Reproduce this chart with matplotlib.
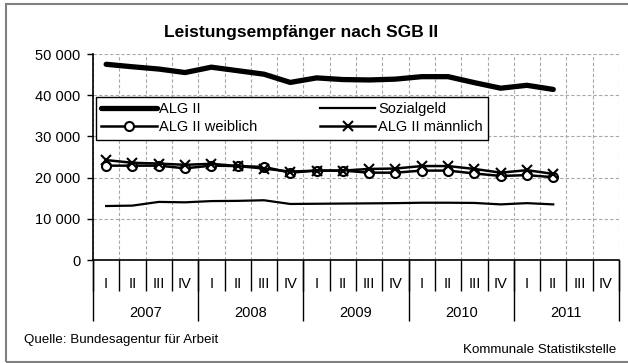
import matplotlib.pyplot as plt
import numpy as np
from matplotlib.patches import Rectangle

plt.rcParams['font.family'] = ['Liberation Sans Narrow', 'Liberation Sans', 'DejaVu Sans']

years = ['2007', '2008', '2009', '2010', '2011']
quarters = ['I', 'II', 'III', 'IV']

# quarterly counts, 2007 I .. 2011 II
alg2 = [47500, 46900, 46350, 45500, 46800, 45950, 45100, 43100, 44200,
        43800, 43700, 43900, 44500, 44500, 43050, 41700, 42400, 41400]
sozialgeld = [13100, 13200, 14100, 14000, 14300, 14350, 14500, 13600, 13650,
              13700, 13750, 13800, 13900, 13900, 13850, 13500, 13800, 13500]
alg2_w = [22900, 22900, 22900, 22250, 22900, 22800, 22600, 21200, 21700,
          21700, 21200, 21200, 21700, 21700, 21000, 20400, 20600, 20100]
alg2_m = [24250, 23600, 23400, 23100, 23350, 22800, 22200, 21450, 21700,
          21700, 22100, 22200, 22800, 22800, 22100, 21200, 21800, 20900]

W, H = 628, 363
fig = plt.figure(figsize=(W / 100, H / 100), dpi=100)
ax = fig.add_axes([93 / W, 1 - 260 / H, (619 - 93) / W, (260 - 54) / H])

n_cat = len(years) * len(quarters)
x = np.arange(len(alg2))

l_alg2, = ax.plot(x, alg2, color='black', lw=3.8, solid_capstyle='round', label='ALG II')
l_soz, = ax.plot(x, sozialgeld, color='black', lw=1.6, label='Sozialgeld')
l_w, = ax.plot(x, alg2_w, color='black', lw=1.8, marker='o', ms=6.5, mfc='white',
               mec='black', mew=1.5, label='ALG II weiblich')
l_m, = ax.plot(x, alg2_m, color='black', lw=1.8, marker='x', ms=6.5, mew=1.5,
               label='ALG II männlich')

ax.set_xlim(-0.5, n_cat - 0.5)
ax.set_ylim(0, 50000)

yticks = np.arange(0, 50001, 10000)
ax.set_yticks(yticks, labels=[f'{v:,}'.replace(',', ' ') for v in yticks])
ax.tick_params(axis='y', direction='out', length=4, width=1, labelsize=10.5, pad=5)

# quarter labels with separators between categories
bounds = np.arange(n_cat + 1) - 0.5
ax.set_xticks(np.arange(n_cat), labels=quarters * len(years))
ax.set_xticks(bounds, minor=True)
ax.tick_params(axis='x', which='major', length=0, pad=12, labelsize=10.5)
ax.tick_params(axis='x', which='minor', direction='out', length=22, width=1)

# year labels with longer separators
sec = ax.secondary_xaxis('bottom')
sec.set_xticks(bounds[::len(quarters)], labels=[''] * (len(years) + 1))
sec.set_xticks(np.arange(len(years)) * len(quarters) + 1.5, labels=years, minor=True)
sec.tick_params(which='major', direction='out', length=44, width=1)
sec.tick_params(which='minor', length=0, pad=33, labelsize=10.5)
sec.spines['bottom'].set_visible(False)

for s in ['top', 'right']:
    ax.spines[s].set_visible(False)
for s in ['left', 'bottom']:
    ax.spines[s].set_linewidth(1.2)

grid_kw = dict(color='#a8a8a8', lw=0.8, ls=(0, (3, 2)))
ax.grid(axis='y', which='major', **grid_kw)
ax.grid(axis='x', which='minor', **grid_kw)
ax.grid(axis='x', which='major', visible=False)
ax.set_axisbelow(True)

# legend fills column-wise, so order the handles to read row by row
leg = ax.legend(handles=[l_alg2, l_w, l_soz, l_m], ncol=2, loc='upper left',
                mode='expand', bbox_to_anchor=(3 / 526, 163 / 206, 392 / 526, 0.0),
                borderaxespad=0, fancybox=False, framealpha=1, edgecolor='black',
                fontsize=10.5, handlelength=3.8, handletextpad=0.2,
                labelspacing=0.3, borderpad=0.35)
leg.get_frame().set_linewidth(1)

fig.text(301 / W, 1 - 32 / H, 'Leistungsempfänger nach SGB II', ha='center',
         va='center', fontsize=12.5, fontweight='bold')
fig.text(24 / W, 1 - 340 / H, 'Quelle: Bundesagentur für Arbeit', ha='left',
         va='center', fontsize=9.6)
fig.text(616 / W, 1 - 350 / H, 'Kommunale Statistikstelle', ha='right',
         va='center', fontsize=9.6)

fig.patches.append(Rectangle((6 / W, 1 / H), 640 / W, 358 / H, transform=fig.transFigure,
                             fill=False, ec='#808080', lw=1.5, clip_on=False))

fig.savefig('out.png', dpi=100)
